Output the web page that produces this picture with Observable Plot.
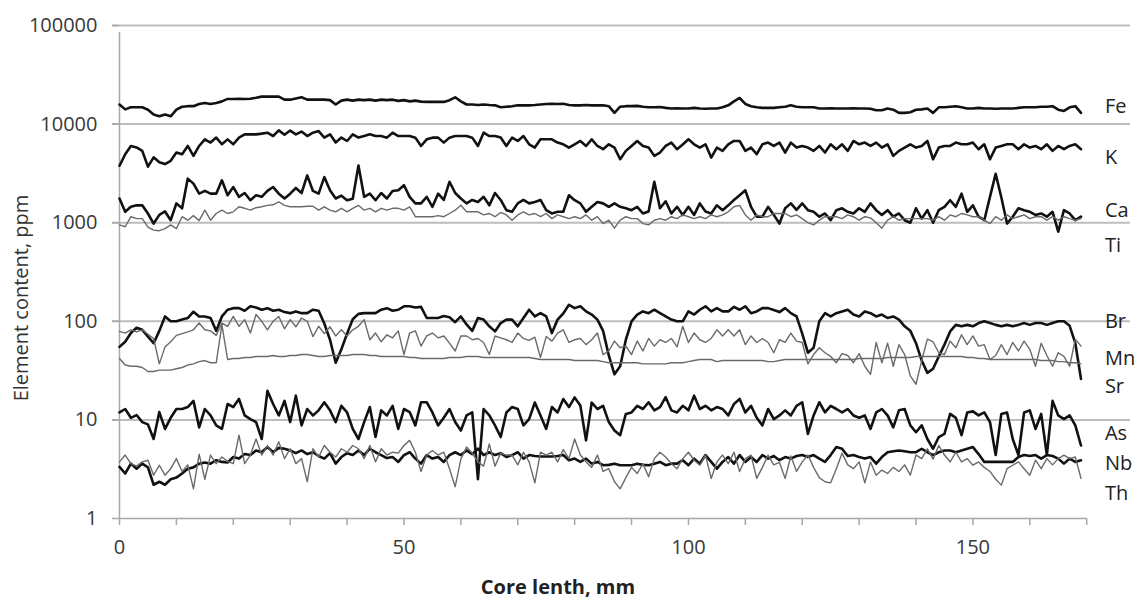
<!DOCTYPE html>
<html><head><meta charset="utf-8">
<script src="https://cdn.jsdelivr.net/npm/d3@7"></script>
<script src="https://cdn.jsdelivr.net/npm/@observablehq/plot@0.6"></script>
<style>body{margin:0;background:#fff;} svg{display:block;}</style>
</head><body><div id="chart"></div>
<script>
// Core length, mm (1 mm sampling)
const depth = d3.range(0, 170);

const Fe = [15800,14100,14800,14800,14800,14000,12500,12000,12500,12000,
 14000,15000,15200,15200,16000,16400,16000,16400,17000,18000,
 18000,18100,18000,18100,18500,19000,19000,19000,19000,17700,
 17700,18200,18700,17700,17700,17700,17700,17500,15800,17300,
 17700,17300,17700,17500,17700,17300,17700,17500,17700,17200,
 17500,17000,17300,16900,16800,16800,16800,16800,
 17500,18700,17000,15800,15800,15600,15800,15600,15500,14800,
 15000,15200,15500,15500,15500,15600,15800,16000,16100,16000,
 16100,15600,15500,15500,15600,15500,15500,15500,15200,13000,
 15000,15200,15200,15300,15000,14800,14800,14900,14600,14400,
 14500,14400,14400,14600,14400,14300,14400,14400,14800,15500,
 17000,18400,16000,15200,14800,14600,
 14600,14600,14800,15000,15500,15000,14800,14800,14800,14400,
 14400,14500,14400,14400,14400,14500,14400,14400,14300,13800,
 13800,14400,14000,13000,13000,13200,14000,14100,14400,13000,
 14800,14800,15000,15200,14800,14400,14400,14600,14400,14400,
 14300,14400,14400,14400,14600,14800,14800,14800,15000,15000,
 15200,14000,13600,14800,15200,13000];

const K = [3780,4950,6000,5800,5350,3700,4600,4100,3930,4240,
 5150,4950,6000,4760,6000,7000,6500,7300,6250,7000,
 6250,7300,7870,7870,7870,8000,8180,7570,8640,7800,
 8600,7870,8400,7570,8180,8500,7300,7870,6500,7300,
 6740,7870,7300,7570,7870,7570,7570,7290,8180,7570,
 7570,7570,7290,6000,7010,7290,7290,6490,
 7290,7570,7570,7570,7290,6000,8180,7570,7570,7300,
 6000,7290,6740,7570,6240,5780,7010,7010,7010,6500,
 6240,5780,6240,6740,6000,7010,6000,5560,6240,5780,
 4400,5350,6000,6740,6000,5780,4760,5150,6000,6490,
 5560,6200,7010,6240,5780,6240,4580,5780,5350,6240,
 6740,6740,5350,5780,4950,6240,
 6490,6000,6490,5150,6490,5780,6000,5780,5350,6000,
 5150,6240,5560,6240,5350,6740,6240,6490,6000,6490,
 5780,6240,4760,5350,5780,6240,5780,6000,6740,4400,
 5780,6000,6000,6490,6240,6240,6490,5560,6240,4400,
 5780,6000,6240,6240,5560,6240,5780,6000,5560,6240,
 5350,6000,5560,6000,6240,5560];

const Ca = [1760,1290,1450,1500,1500,1240,980,1200,1300,1060,
 1570,1400,2800,2490,1970,2100,1970,1970,2690,1900,
 2300,1830,2000,1690,1900,1830,2100,2300,1970,1760,
 1970,2250,2000,3020,2100,1970,2900,2130,1760,1880,
 1690,1750,3800,1830,1970,1690,2000,1760,2100,2130,
 2400,1830,1570,1570,1830,1450,1970,1700,
 2600,2000,1760,1570,1700,1620,1830,1500,2000,1700,
 1340,1290,1570,1700,1570,1620,1700,1340,1240,1290,
 1290,1900,1690,1570,1290,1450,1620,1570,1450,1570,
 1450,1400,1340,1450,1240,1300,2600,1400,1650,1240,
 1450,1200,1450,1200,1570,1300,1240,1500,1340,1500,
 1700,1900,2130,1450,1150,1150,
 1450,1200,980,1400,1570,1350,1570,1340,1290,1150,
 1240,1060,1340,1400,1290,1240,1400,1290,1570,1340,
 1200,1340,1150,1240,1060,1000,1400,1100,1340,1000,
 1340,1450,1690,1450,1970,1290,1500,1150,1060,1830,
 3140,1800,980,1150,1400,1340,1290,1200,1240,1150,
 1290,810,1340,1240,1060,1150];

const Ti = [950,910,1150,1100,1100,900,840,830,870,950,
 870,1150,1060,1180,1050,1340,1060,1240,1340,1240,
 1290,1450,1400,1340,1420,1450,1500,1520,1630,1500,
 1450,1450,1450,1470,1470,1340,1450,1340,1290,1400,
 1290,1400,1500,1340,1400,1290,1400,1340,1400,1400,
 1340,1450,1150,1150,1150,1150,1180,1150,
 1240,1340,1500,1290,1290,1290,1200,1240,1150,1270,
 1200,1060,1200,1290,1200,1240,1150,1240,1100,1200,
 1150,1100,1150,1100,1200,1060,1150,980,1060,880,
 1060,1150,1100,1100,980,950,1060,1100,1060,1150,
 1100,1200,1150,1100,1150,1100,1200,1150,1200,1290,
 1450,1500,1200,1060,1200,1150,
 1150,1240,1240,1240,1150,1200,1100,1000,950,1060,
 1150,1150,1150,1100,1200,1150,1060,1150,1120,1000,
 880,1060,1150,1060,1100,1100,1100,1100,1100,1060,
 1150,1060,1200,1150,1240,1200,1150,1150,1060,980,
 1150,1060,1200,1100,1150,1200,1100,1150,1150,1060,
 1150,1060,1150,1100,1060,1100];

const Br = [55,62,76,86,82,70,60,80,112,100,
 100,104,108,125,112,112,108,80,112,131,
 136,136,128,142,138,131,136,128,131,124,
 121,126,121,121,131,128,95,65,38,52,
 75,105,119,121,121,121,131,136,128,131,
 142,142,138,140,108,108,108,113,
 110,98,112,93,80,108,104,89,79,96,
 104,104,89,108,131,112,121,112,76,104,
 120,147,136,142,126,117,104,80,45,29,
 35,65,100,117,126,121,131,121,112,104,
 100,100,126,117,131,142,126,136,126,126,
 140,131,142,121,126,136,
 136,130,124,136,121,112,75,48,54,100,
 121,112,121,126,131,117,112,126,121,112,
 117,108,112,104,89,80,60,40,30,33,
 44,58,79,92,89,92,89,96,100,96,
 92,89,92,89,92,96,92,96,96,92,
 96,100,100,90,60,26];

const Mn = [79,76,82,78,82,74,67,37,55,62,
 72,75,78,82,96,82,80,72,96,89,
 112,89,104,76,117,100,82,100,112,84,
 104,88,108,100,70,89,75,88,71,82,
 71,82,89,104,65,76,62,73,68,80,
 46,76,80,56,71,76,68,71,
 60,50,71,71,65,67,61,46,71,68,
 65,61,76,67,64,69,43,70,63,76,
 82,61,65,67,58,65,76,46,50,63,
 54,56,46,63,50,67,56,65,61,67,
 55,89,61,76,65,61,67,82,71,82,
 71,82,58,71,61,67,
 61,48,65,61,76,63,61,37,46,54,
 48,44,38,47,45,38,47,35,29,61,
 38,60,35,58,46,28,23,40,66,62,
 48,46,63,54,73,58,71,56,58,41,
 45,58,46,61,50,63,52,35,60,45,
 35,48,44,35,66,56];

const Sr = [42,36,35,35,34,31,31,32,32,32,
 33,34,36,37,39,40,38,38,92,41,
 42,42,43,43,44,44,44,45,44,44,
 45,45,46,46,45,44,44,45,45,45,
 45,46,46,46,45,45,44,44,44,44,
 44,43,43,42,42,42,42,42,
 43,43,43,44,44,44,43,43,43,43,
 43,43,43,43,43,42,41,41,41,41,
 41,41,40,40,40,40,40,39,38,38,
 38,38,38,38,37,37,37,37,37,38,
 38,38,39,40,41,41,41,39,40,40,
 40,40,40,40,40,40,
 39,39,40,41,41,41,41,41,41,41,
 41,41,41,41,41,41,42,42,42,42,
 42,43,43,43,43,43,44,44,44,44,
 44,44,44,44,44,43,43,42,42,41,
 41,41,41,41,41,41,41,41,40,40,
 40,39,39,38,38,37];

const As = [11.9,12.9,10.5,11.2,9.5,9,6.4,12,8.1,10.5,
 12.9,12.9,13.5,15.6,8.4,12.9,11.1,8.8,8.1,14.5,
 13.5,16.3,11.1,10.2,9.5,6.4,19.7,14.5,11.1,15.6,
 9.5,17.6,8.8,12.9,11.1,12.5,15.1,12.5,9.5,13.9,
 11.9,8.1,6.4,9.5,13.5,6.7,12.5,11.1,13.9,8.1,
 12.9,12,8.8,15.1,15.1,11.9,8.8,10.5,
 12.9,9.5,7.8,11.1,11.9,2.5,12.9,11.1,8.8,6.7,
 11.9,13.5,12.9,8.8,10.2,15,11.1,8.1,13.5,11.9,
 16.3,13.5,16.9,14,6.2,15,12.9,13.9,9.5,7.8,
 7,11.5,11.9,13.9,12.9,15.1,12.5,13.5,17,12.5,
 11.9,13.9,12.5,17.6,12.9,13.9,12.5,13.5,12.9,11.1,
 14.5,16.3,11.9,13.9,10.5,8.8,
 12.9,10.2,11.1,12.5,11.1,13.9,15.1,7.2,11.1,15.1,
 11.9,13.9,12.9,11.9,12.9,11.1,10.5,11.1,8.1,11.9,
 12.9,11.1,8.4,12.5,12.9,8.8,7.5,8.8,6.4,5.1,
 6.7,7.2,11.5,10.5,7,11.9,12.2,11.1,11.9,9.5,
 4.4,11.5,11.9,6.4,4.4,11.9,12.5,8.1,11.5,4.4,
 15.6,11.1,10.2,11.1,8.8,5.5];

const Nb = [3.34,2.86,3.6,3.2,3.6,3.3,2.2,2.36,2.2,2.5,
 2.6,2.86,3.2,3.3,3.6,3.7,3.6,3.9,3.75,3.7,
 4.2,4.05,4.5,4.4,4.9,4.7,5.3,4.7,5.2,5.1,
 4.9,4.6,4.9,4.5,4.7,4.3,4.05,4.6,3.6,4.2,
 4.6,4.4,4.9,4.4,5.1,4.7,4.4,4.1,4.2,3.75,
 4.4,4.7,4.05,3.6,4.4,4.05,4.2,3.75,
 4.4,4.7,4.4,4.9,4.5,5.1,4.4,4.7,4.4,4.6,
 4.2,4.4,4.7,4.05,4.4,4.3,4.25,4.25,4.25,4.3,
 4.4,3.9,4.05,3.75,4.05,3.6,3.75,3.47,3.5,3.6,
 3.47,3.47,3.47,3.6,3.5,3.47,3.6,3.75,3.47,3.6,
 3.6,3.9,3.47,4.05,3.6,4.4,3.75,3.2,3.75,4.2,
 3.6,4.4,3.75,4.2,3.75,4.4,
 4.05,4.3,3.9,4.2,4.05,4.3,4.4,4.2,4.4,4.05,
 3.75,4.4,5.3,5.1,4.3,4.4,4.2,4.05,4.2,3.6,
 4.2,4.7,4.8,4.9,4.8,4.7,4.7,5.1,4.7,4.4,
 4.7,4.9,4.9,4.7,4.9,5.1,5.3,4.5,3.75,3.75,
 3.75,3.75,3.75,3.75,4.2,4.4,4.3,4.4,4.05,4.4,
 4.3,4.05,3.6,4.05,3.75,3.9];

const Th = [3.75,4.4,3.6,3.4,3.75,3.9,2.75,3.47,2.75,3.2,
 4.05,3.0,3.5,2.0,4.5,2.5,4.4,3.6,4.2,3.8,
 3.6,7,3.6,4.4,6.4,4.4,5.5,4.4,6.0,4.05,
 5.1,3.6,4.05,2.36,5.1,4.2,5.5,4.7,4.2,5.1,
 4.7,5.5,5.1,4.05,5.5,3.75,5.1,4.4,4.7,4.6,
 5.5,6.2,4.7,3.0,4.4,4.9,4.4,4.7,
 3.2,2.1,4.0,5.3,4.6,3.75,3.4,5.7,3.4,4.6,
 4.4,4.4,3.5,4.7,3.75,2.3,4.7,4.4,4.7,3.75,
 5.0,4.05,6.4,4.4,3.75,3.3,4.4,3.0,3.2,2.36,
 2.0,2.6,3.3,2.86,3.6,2.65,4.05,4.7,4.2,3.6,
 3.2,4.05,4.7,3.9,3.47,4.4,2.55,3.75,4.4,3.6,
 4.7,3.0,4.05,4.4,2.55,3.3,
 4.4,3.5,3.7,2.55,4.3,3.0,3.75,4.4,3.3,2.6,
 2.36,2.3,3.2,4.6,3.5,3.2,3.75,2.3,3.75,2.75,
 3.1,2.86,3.3,3.0,3.5,2.75,4.4,4.05,5.1,4.0,
 5.5,4.4,3.75,4.7,3.75,4.05,3.47,3.75,3.3,3.0,
 2.5,2.18,3.2,3.47,3.75,3.2,2.75,3.9,3.2,4.05,
 3.5,4.05,4.4,4.05,4.2,2.55];

const elements = ["Fe", "K", "Ca", "Ti", "Br", "Mn", "Sr", "As", "Nb", "Th"];
const heavyElements = ["Fe", "K", "Ca", "Br", "As", "Nb"];
const labelValues = [15000, 4570, 1330, 587, 100, 41.5, 22, 7.3, 3.63, 1.8];
const yTicks = [1, 10, 100, 1000, 10000, 100000];
const xTicks = d3.range(0, 171, 10);
const xTickLabels = [0, 50, 100, 150];
const xAxisEnd = 170;

const seriesMap = {Fe, K, Ca, Ti, Br, Mn, Sr, As, Nb, Th};
const rows = elements.flatMap(el => seriesMap[el].map((v, i) => ({el, depth: depth[i], v})));
const labelRows = elements.map((el, i) => ({el, v: labelValues[i]}));

const lineMarks = elements.map(el => {
  const heavy = heavyElements.includes(el);
  return Plot.line(rows.filter(r => r.el === el), {
    x: "depth", y: "v",
    stroke: heavy ? "#111" : "#6a6a6a",
    strokeWidth: heavy ? 2.6 : 1.4,
    strokeLinejoin: "round"
  });
});

const plot = Plot.plot({
  width: 1138, height: 600,
  marginLeft: 119, marginRight: 8, marginTop: 25, marginBottom: 82,
  style: {fontFamily: "'Open Sans', sans-serif", fontSize: "20px", background: "#fff", color: "#333", overflow: "visible"},
  x: {domain: [0, 177.7]},
  y: {type: "log", domain: [1, 100000]},
  marks: [
    Plot.ruleY(yTicks.slice(1), {stroke: "#bdbdbd", strokeWidth: 2, insetLeft: -7}),
    Plot.ruleY([1], {x1: 0, x2: xAxisEnd, stroke: "#a8a8a8", strokeWidth: 1.5}),
    Plot.ruleX([0], {y1: 1, y2: 100000, stroke: "#a8a8a8", strokeWidth: 1.5, insetBottom: -7}),
    Plot.axisY({ticks: yTicks, tickSize: 7, tickPadding: 15, tickFormat: d => String(d), stroke: "#a8a8a8", fill: "#383838", strokeWidth: 1.5, label: null, fontSize: 20}),
    Plot.axisX({ticks: xTicks, tickSize: 7, tickPadding: 14, tickFormat: d => xTickLabels.includes(d) ? String(d) : "", stroke: "#a8a8a8", fill: "#383838", strokeWidth: 1.5, label: null, fontSize: 20}),
    ...lineMarks,
    Plot.text(labelRows, {x: () => 173.2, y: "v", text: "el", textAnchor: "start", fontSize: 20, fill: "#222"})
  ]
});

const svg = d3.select(plot);
svg.append("text")
  .attr("transform", "translate(28,298) rotate(-90)")
  .attr("text-anchor", "middle")
  .attr("font-size", 20).attr("fill", "#333")
  .text("Element content, ppm");
svg.append("text")
  .attr("x", 558).attr("y", 594)
  .attr("text-anchor", "middle")
  .attr("font-size", 20).attr("font-weight", "bold").attr("fill", "#222")
  .text("Core lenth, mm");

document.getElementById("chart").appendChild(plot);
</script>
</body></html>
